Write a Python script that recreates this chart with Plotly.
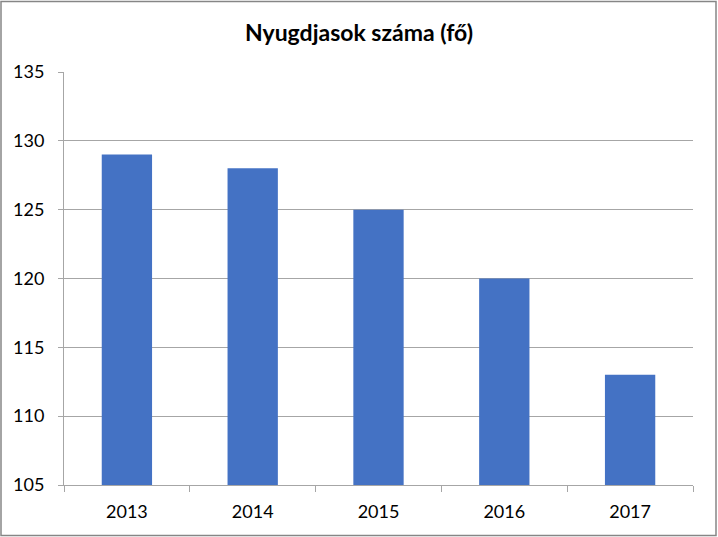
import plotly.graph_objects as go

years = ["2013", "2014", "2015", "2016", "2017"]
retirees = [129, 128, 125, 120, 113]

W, H = 718, 537
ml, mr, mt, mb = 64, 25, 72, 52
pw, ph = W - ml - mr, H - mt - mb

fig = go.Figure(go.Bar(x=years, y=retirees, marker_color="#4472C4", marker_line_width=0))

fig.update_layout(
    width=W, height=H,
    margin=dict(l=ml, r=mr, t=mt, b=mb),
    paper_bgcolor="white", plot_bgcolor="white",
    bargap=0.6,
    showlegend=False,
    font=dict(family="Lato, Liberation Sans, sans-serif", size=18, color="#000000"),
    title=dict(text="<b>Nyugdjasok száma (fő)</b>", x=0.5, xanchor="center",
               y=1 - 33 / H, yanchor="middle", font=dict(size=23, color="#000000")),
)
fig.update_xaxes(
    type="category", tickson="boundaries", ticks="outside", ticklen=6,
    tickcolor="#A6A6A6", showline=True, linecolor="#A6A6A6", showgrid=False,
    ticklabelstandoff=10,
)
fig.update_yaxes(
    range=[105, 135], dtick=5, ticks="outside", ticklen=5, tickcolor="#A6A6A6",
    showline=True, linecolor="#A6A6A6", gridcolor="#A6A6A6", gridwidth=1,
    zeroline=False, ticklabelstandoff=10,
)

# chart border
fig.add_shape(type="rect", xref="paper", yref="paper",
              x0=(1 - ml) / pw, x1=(W - 2 - ml) / pw,
              y0=-(mb - 1.5) / ph, y1=1 + (mt - 1.5) / ph,
              line=dict(color="#868686", width=1.5), layer="below")

fig.write_html("out.html", config={"displayModeBar": False},
               post_script="document.body.style.margin='0';")
